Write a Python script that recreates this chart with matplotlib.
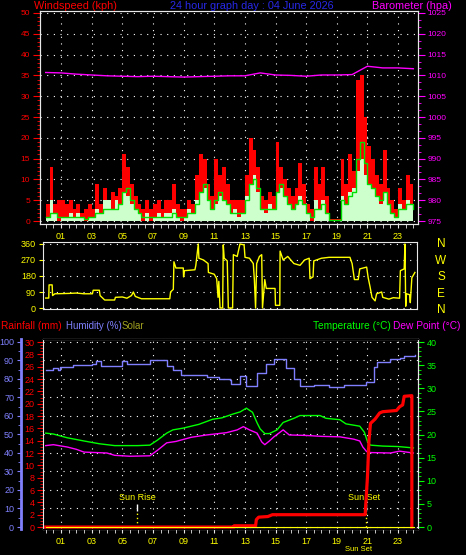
import matplotlib
matplotlib.use('Agg')
import matplotlib.pyplot as plt
import matplotlib.transforms as mtransforms
from matplotlib.ticker import MultipleLocator, FixedLocator
import numpy as np

plt.rcParams['font.family'] = ['Liberation Sans', 'DejaVu Sans']

# ---- data ----
# wind, every 15 minutes from 00:00 to 24:00 (kph)
gust = [4, 13, 4, 5,  5, 4, 5, 3,  4, 2, 3, 4,  3, 9, 4, 8,
        5, 7, 6, 8,  16, 13, 9, 6,  4, 3, 5, 3,  4, 5, 3, 5,
        5, 9, 4, 3,  3, 5, 4, 11,  16, 15, 9, 6,  15, 11, 13, 9,
        5, 5, 5, 5,  11, 20, 17, 13,  6, 5, 7, 6,  19, 13, 10, 8,
        6, 8, 14, 9,  4, 3, 13, 9,  13, 6, 0.5, 0.5,  0.5, 15, 9, 16,
        12, 34, 35, 25,  18, 15, 11, 9,  17, 8, 5, 3,  8, 5, 11, 9,  6]
speed = [1, 5, 2, 0,  1, 1, 2, 1,  2, 1, 0, 1,  1, 3, 2, 5,
         5, 3, 5, 4,  7, 6, 4, 3,  2, 0, 2, 0,  1, 2, 1, 2,
         2, 3, 1, 0,  1, 3, 2, 5,  7, 8, 5, 3,  4, 6, 5, 4,
         2, 3, 1, 2,  6, 9, 11, 7,  3, 2, 4, 3,  7, 8, 6, 4,
         3, 4, 6, 4,  2, 0, 5, 3,  5, 2, 0, 0,  0, 6, 4, 7,
         8, 12, 15, 11,  9, 8, 6, 4,  7, 4, 2, 1,  4, 3, 5, 4,  3]
wind_avg = [1, 2, 2, 1,  1, 1, 1, 1,  1, 1, 0.5, 1,  1, 2, 2, 3,
            3, 3, 3, 4,  7, 8, 5, 3,  2, 1, 1, 1,  1, 1, 1, 1,
            1, 2, 1, 1,  1, 2, 2, 4,  7, 9, 5, 3,  5, 7, 5, 4,
            2, 2, 2, 2,  5, 9, 10, 8,  3, 3, 3, 3,  7, 9, 6, 4,
            3, 4, 5, 4,  2, 1, 3, 3,  4, 2, 0.3, 0.3,  0.3, 5, 4, 6,
            7, 15, 19, 14,  9, 8, 6, 5,  7, 4, 2, 1,  3, 3, 4, 4,  3]
wind_hours = np.arange(0, 24.01, 0.25)

# barometer (hPa), hourly
baro = [1010.7, 1010.6, 1010.3, 1010.1, 1009.9, 1009.8, 1009.7, 1009.8, 1009.7,
        1009.6, 1009.7, 1009.8, 1009.9, 1009.9, 1010.6, 1010.1, 1010.0, 1009.8,
        1010.1, 1010.1, 1010.2, 1012.2, 1011.8, 1011.8, 1011.6]
baro_hours = np.arange(0, 25)

# wind direction (degrees)
dir_hours = [0.00, 0.20, 0.22, 0.42, 0.45, 0.60, 1.50, 2.00, 2.50, 3.05, 3.10, 3.50,
             3.55, 3.85, 4.50, 4.55, 5.00, 5.30, 5.60, 5.72, 5.85, 6.25, 8.10, 8.15,
             8.33, 8.37, 8.50, 8.98, 9.00, 9.05, 9.74, 9.80, 9.96, 10.00, 10.30, 10.60,
             10.62, 11.00, 11.16, 11.25, 11.30, 11.38, 11.55, 11.59, 11.65, 11.85, 11.92,
             12.20, 12.25, 12.50, 12.68, 12.95, 13.01, 13.30, 13.55, 13.62, 13.70, 13.77,
             13.95, 14.10, 14.15, 14.30, 14.40, 14.97, 15.00, 15.28, 15.30, 15.50, 15.80,
             16.20, 16.60, 16.90, 17.20, 17.25, 17.45, 17.50, 18.00, 18.50, 19.00, 19.86,
             20.00, 20.15, 20.40, 20.50, 20.95, 21.05, 21.17, 21.30, 21.50, 21.60, 21.93,
             22.00, 22.40, 22.69, 23.10, 23.15, 23.40, 23.45, 23.50, 23.55, 23.75, 23.80,
             23.90, 24.10]
dir_deg = [56, 56, 130, 130, 70, 80, 82, 84, 80, 80, 100, 100,
           70, 45, 45, 60, 62, 55, 70, 90, 65, 52, 52, 90,
           105, 260, 225, 225, 175, 210, 215, 240, 360, 280, 270, 250,
           200, 190, 165, 60, 150, 0, 0, 355, 280, 265, 0,
           0, 300, 290, 360, 355, 285, 280, 250, 160, 0, 250,
           290, 300, 0, 160, 110, 110, 15, 15, 320, 270, 290,
           250, 240, 270, 280, 165, 175, 265, 280, 285, 285, 285,
           250, 160, 160, 220, 230, 170, 120, 60, 40, 80, 90,
           60, 50, 58, 55, 210, 220, 360, 10, 80, 75, 30,
           170, 200]

# humidity (%)
hum_hours = [0.0, 0.5, 0.8, 0.95, 1.8, 3.0, 3.3, 3.6, 4.4, 5.0, 5.3, 6.6, 6.8, 7.7,
             7.9, 8.3, 8.8, 10.5, 11.3, 12.0, 12.1, 12.6, 12.7, 13.1, 13.8, 14.4, 14.9,
             15.3, 15.7, 16.2, 16.6, 17.5, 18.5, 19.5, 20.7, 20.9, 21.4, 21.6, 22.5,
             23.1, 23.4, 24.1]
humidity = [85, 86, 85, 86.5, 87.5, 88, 89.5, 87.2, 87.2, 89.5, 88, 88, 90.3, 90.3,
            87, 85, 82, 81, 80, 79.5, 77.3, 77.5, 81.4, 76, 83, 88, 91,
            91, 86, 80, 76, 77, 75.5, 77, 77, 78.5, 86.5, 89.3, 90.8,
            91.5, 92.6, 93]

# temperature and dew point (deg C)
temp_hours = [0, 0.5, 1.4, 2.5, 3.5, 4.5, 6.0, 6.8, 7.3, 7.9, 8.3, 9.0, 10.0, 10.9,
              11.5, 12.2, 12.7, 13.1, 13.5, 13.8, 14.0, 14.3, 14.6, 15.1, 15.5, 16.2,
              16.6, 17.9, 18.3, 19.2, 19.6, 20.5, 20.8, 21.0, 21.2, 22.0, 23.0, 24.0]
temperature = [20.3, 20.1, 19.3, 18.6, 18.0, 17.6, 17.6, 17.7, 18.8, 20.3, 21.0, 21.4,
               22.2, 23.3, 23.6, 24.4, 24.9, 25.7, 24.8, 22.5, 21.2, 20.2, 20.2, 21.0,
               22.6, 23.5, 24.1, 24.1, 23.5, 23.2, 22.3, 21.8, 20.5, 18.5, 17.7, 17.5,
               17.4, 17.1]
dew_hours = [0, 0.5, 1.4, 2.0, 2.5, 4.0, 4.5, 5.5, 6.8, 7.3, 7.9, 8.5, 9.5, 10.5, 11.8,
             12.5, 12.9, 13.3, 13.8, 14.1, 14.3, 14.6, 14.9, 15.5, 15.9, 17.0, 18.0,
             19.2, 20.1, 20.5, 20.7, 20.95, 21.2, 22.5, 23.1, 24.0]
dew_point = [17.6, 17.8, 17.3, 16.8, 16.2, 16.0, 15.5, 15.3, 15.4, 16.6, 18.2, 18.5,
             19.4, 19.9, 20.4, 21.0, 21.7, 21.0, 20.3, 18.4, 17.8, 18.6, 19.5, 21.0,
             19.9, 19.8, 19.6, 19.5, 19.0, 18.6, 17.3, 16.3, 16.1, 16.0, 16.4, 16.0]

# rainfall (mm, running total)
rain_hours = [0, 12.3, 12.3, 13.7, 13.75, 13.9, 14.5, 14.8, 20.85, 20.9, 21.0, 21.1,
              21.2, 21.5, 21.8, 22.0, 22.9, 23.1, 23.3, 23.4, 23.9, 23.9]
rainfall = [0, 0, 0.2, 0.2, 1.2, 1.6, 1.7, 2.0, 2.0, 4.0, 8.0, 14.0,
            16.8, 17.5, 18.5, 18.7, 18.9, 19.5, 19.8, 21.2, 21.3, 0]

solar_hours = [0, 24.05]
solar = [0, 0]

sunrise = 5.96
sunset = 20.89

hour_ticks = list(range(1, 24, 2))
hour_labels = ['%02d' % h for h in hour_ticks]

# ---- layout ----
W, H = 466, 555
FRAME = '#e8e8e8'
DOT = (0, (1, 5))
YEL = '#ffff00'


def box(l, t, r, b):
    return [l / W, 1 - b / H, (r - l) / W, (b - t) / H]


def hx(px):
    return (px - 45.7) / 15.32


fig = plt.figure(figsize=(W / 100, H / 100), dpi=100, facecolor='black')

# ---- wind speed / barometer ----
ax1 = fig.add_axes(box(40, 11, 418, 224))
ax1.set_facecolor('black')
ax1.set_xlim(hx(40), hx(418))
ax1.set_ylim(-0.72, 50.48)
ax1.set_axisbelow(True)
ax1.fill_between(wind_hours, 0, gust, step='post', color='#ff0000', lw=0)
ax1.fill_between(wind_hours, 0, speed, step='post', color='#ccffcc', lw=0)
ax1.plot(wind_hours, wind_avg, drawstyle='steps-post', color='#00e000', lw=1)
ax1.xaxis.set_major_locator(FixedLocator(hour_ticks))
ax1.xaxis.set_minor_locator(MultipleLocator(0.5))
ax1.set_xticklabels(hour_labels)
ax1.yaxis.set_major_locator(MultipleLocator(5))
ax1.yaxis.set_minor_locator(MultipleLocator(1))
ax1.grid(True, which='major', color='white', linestyle=DOT, lw=0.8)
ax1.tick_params(axis='x', which='both', colors=FRAME, labelcolor=YEL, labelsize=6.5,
                length=3, pad=3)
ax1.tick_params(axis='y', which='major', colors='red', labelsize=6, length=5, pad=2)
ax1.tick_params(axis='y', which='minor', colors='red', length=2)
for s in ax1.spines.values():
    s.set_color(FRAME)

ax1p = ax1.twinx()
ax1p.set_ylim(974.28, 1025.48)
ax1p.plot(baro_hours, baro, color='#ff00ff', lw=1)
ax1p.yaxis.set_major_locator(MultipleLocator(5))
ax1p.yaxis.set_minor_locator(MultipleLocator(5 / 3))
ax1p.tick_params(axis='y', which='major', colors='#ff00ff', labelsize=6, length=5, pad=2)
ax1p.tick_params(axis='y', which='minor', colors='#ff00ff', length=2)
for s in ax1p.spines.values():
    s.set_color(FRAME)

fig.text(34 / W, 1 - 6 / H, 'Windspeed (kph)', color='red', fontsize=7.8,
         ha='left', va='center')
fig.text(251.5 / W, 1 - 6 / H, '24 hour graph day : 04 June 2026', color='#2828e8',
         fontsize=7.8, ha='center', va='center')
fig.text(372 / W, 1 - 6 / H, 'Barometer (hpa)', color='#ff00ff', fontsize=7.8,
         ha='left', va='center')

# ---- wind direction ----
ax2 = fig.add_axes(box(43, 242, 417, 309))
ax2.set_facecolor('black')
ax2.set_xlim(hx(43), hx(417))
ax2.set_ylim(-5.6, 371.2)
ax2.set_axisbelow(True)
ax2.plot(dir_hours, dir_deg, color='#ffff00', lw=1)
ax2.set_yticks([0, 90, 180, 270, 360])
ax2.set_xticks([])
ax2.grid(True, axis='y', color='white', linestyle=DOT, lw=0.8)
ax2.tick_params(axis='y', colors=YEL, labelsize=6.5, length=3, pad=2)
for s in ax2.spines.values():
    s.set_color(FRAME)
for letter, py in zip(['N', 'W', 'S', 'E', 'N'], [244, 261, 277, 294, 310]):
    fig.text(441 / W, 1 - py / H, letter, color=YEL, fontsize=8.5, ha='center', va='center')

# ---- humidity / temperature / rainfall ----
ax3 = fig.add_axes(box(43, 339, 418, 529))
ax3.set_facecolor('black')
ax3.set_xlim(hx(43), hx(418))
ax3.set_ylim(-1.08, 101.6)
ax3.set_axisbelow(True)
ax3.plot(hum_hours, humidity, color='#8080ff', lw=1, drawstyle='steps-post')
ax3.yaxis.set_major_locator(MultipleLocator(10))
ax3.yaxis.set_minor_locator(MultipleLocator(5))
ax3.xaxis.set_major_locator(FixedLocator(hour_ticks))
ax3.xaxis.set_minor_locator(MultipleLocator(0.5))
ax3.set_xticklabels(hour_labels)
ax3.grid(True, which='major', color='white', linestyle=DOT, lw=0.8)
ax3.spines['left'].set_position(('outward', 15.8))
ax3.spines['left'].set_color('#8080ff')
ax3.spines['left'].set_linewidth(2)
for k in ['top', 'right', 'bottom']:
    ax3.spines[k].set_color(FRAME)
ax3.tick_params(axis='y', which='major', colors='#8080ff', labelsize=6.5, length=3, pad=2)
ax3.tick_params(axis='y', which='minor', colors='#8080ff', length=2)
ax3.tick_params(axis='x', which='both', colors=FRAME, labelcolor=YEL, labelsize=6.5,
                length=3, pad=3)

# sun rise / sun set markers
ax3.vlines([sunrise, sunset], 8.6, 12.4, color='white', lw=1)
ax3.vlines([sunrise, sunset], 0, 8.6, color=YEL, lw=1, linestyle=(0, (1, 2)))
ax3.text(sunrise, 15.7, 'Sun Rise', color=YEL, fontsize=6.5, ha='center', va='center')
ax3.text(sunset - 0.1, 15.7, 'Sun Set', color=YEL, fontsize=6.5, ha='center', va='center')
trans = mtransforms.blended_transform_factory(ax3.transData, ax3.transAxes)
ax3.text(sunset - 0.45, -0.11, 'Sun Set', transform=trans, color=YEL, fontsize=5.5,
         ha='center', va='center')

ax3t = ax3.twinx()
ax3t.set_ylim(-0.43, 40.65)
ax3t.plot(temp_hours, temperature, color='#00ff00', lw=1)
ax3t.plot(dew_hours, dew_point, color='#ff00ff', lw=1)
ax3t.yaxis.set_major_locator(MultipleLocator(5))
ax3t.yaxis.set_minor_locator(MultipleLocator(1))
ax3t.tick_params(axis='y', which='major', colors='#00ff00', labelsize=6.5, length=4, pad=2)
ax3t.tick_params(axis='y', which='minor', colors='#00ff00', length=2)
for s in ax3t.spines.values():
    s.set_color(FRAME)
ax3t.spines['left'].set_visible(False)

ax3r = ax3.twinx()
ax3r.set_ylim(-0.32, 30.49)
ax3r.yaxis.set_ticks_position('left')
ax3r.plot(rain_hours, rainfall, color='#ff0000', lw=2.3)
ax3r.plot(solar_hours, solar, color=YEL, lw=0.8)
ax3r.yaxis.set_major_locator(MultipleLocator(2))
ax3r.yaxis.set_minor_locator(MultipleLocator(0.5))
ax3r.tick_params(axis='y', which='major', colors='red', labelsize=6.5, length=4, pad=2)
ax3r.tick_params(axis='y', which='minor', colors='red', length=2)
ax3r.spines['right'].set_visible(False)
ax3r.spines['left'].set_color(FRAME)

bt = 1 - 326 / H
fig.text(1 / W, bt, 'Rainfall (mm)', color='red', fontsize=7.3, ha='left', va='center')
fig.text(66 / W, bt, 'Humidity (%)', color='#8080ff', fontsize=7.0, ha='left', va='center')
fig.text(122 / W, bt, 'Solar', color='#a0a020', fontsize=7.0, ha='left', va='center')
fig.text(313 / W, bt, 'Temperature (°C)', color='#00ff00', fontsize=7.3, ha='left', va='center')
fig.text(393 / W, bt, 'Dew Point (°C)', color='#ff00ff', fontsize=7.3, ha='left', va='center')

fig.savefig('out.png', dpi=100, facecolor='black')
